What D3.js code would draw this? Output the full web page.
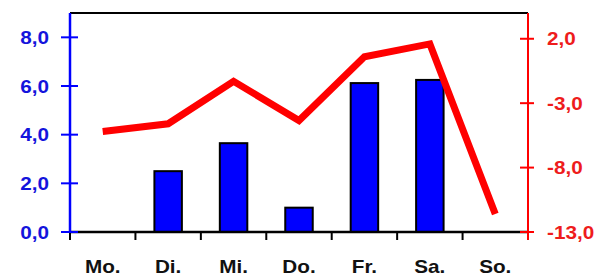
<!DOCTYPE html>
<head>
    <meta charset="utf-8">
    <script src="https://d3js.org/d3.v7.min.js"></script>
</head>
<body style="background: white; margin: 0">
    <div id="my_dataviz"></div>
    <script>
        // data
        var days = ["Mo.", "Di.", "Mi.", "Do.", "Fr.", "Sa.", "So."]
        var barValues = [0, 2.5, 3.65, 1.0, 6.12, 6.25, 0]
        var lineValues = [-5.2, -4.6, -1.3, -4.35, 0.6, 1.6, -11.6]
        var leftTicks = [0, 2, 4, 6, 8]
        var rightTicks = [-13, -8, -3, 2]

        var W = 612, H = 277
        var margin = { top: 13, right: 84, bottom: 45, left: 70 },
            width = W - margin.left - margin.right,
            height = H - margin.top - margin.bottom;

        var svg = d3.select("#my_dataviz")
            .append("svg")
            .attr("width", W)
            .attr("height", H)
            .append("g")
            .attr("transform", "translate(" + margin.left + "," + margin.top + ")");

        var fmt = function (v) { return v.toFixed(1).replace(".", ","); }
        var font = "'Liberation Sans', Arial, sans-serif"
        var stretch = 1.15

        // scales
        var x = d3.scaleBand().domain(days).range([0, width])
        var yL = d3.scaleLinear().domain([0, 9]).range([height, 0])
        var yR = d3.scaleLinear().domain([-13, 4]).range([height, 0])

        // bars
        svg.selectAll(".bar")
            .data(days)
            .enter()
            .filter(function (d, i) { return barValues[i] > 0; })
            .append("rect")
            .attr("x", function (d) { return x(d) + x.bandwidth() * 0.29; })
            .attr("width", x.bandwidth() * 0.42)
            .attr("y", function (d) { return yL(barValues[days.indexOf(d)]); })
            .attr("height", function (d) { return height - yL(barValues[days.indexOf(d)]); })
            .style("fill", "#0000ff")
            .style("stroke", "#000")
            .style("stroke-width", 2)

        // top border
        svg.append("line")
            .attr("x1", 0).attr("x2", width)
            .attr("y1", 0).attr("y2", 0)
            .style("stroke", "#000").style("stroke-width", 2)

        // bottom axis (ticks on band edges)
        var xAx = svg.append("g")
            .attr("transform", "translate(0," + height + ")")
        xAx.append("line").attr("x1", 0).attr("x2", width)
            .style("stroke", "#000").style("stroke-width", 2.5)
        var edges = days.map(function (d) { return x(d); }).concat([width])
        xAx.selectAll(".edge").data(edges).enter().append("line")
            .attr("x1", function (d) { return d; }).attr("x2", function (d) { return d; })
            .attr("y1", 0).attr("y2", 8)
            .style("stroke", "#000").style("stroke-width", 2)
        xAx.selectAll(".lab").data(days).enter().append("text")
            .attr("transform", function (d) {
                return "translate(" + (x(d) + x.bandwidth() / 2) + ",41) scale(" + stretch + ",1)";
            })
            .attr("text-anchor", "middle")
            .style("font-family", font).style("font-weight", "bold")
            .style("font-size", "18px").style("fill", "#111")
            .text(function (d) { return d; })

        // left axis
        var lAx = svg.append("g")
        lAx.append("line").attr("x1", 0).attr("x2", 0).attr("y1", 0).attr("y2", height)
            .style("stroke", "#0000ff").style("stroke-width", 2.5)
        lAx.selectAll(".t").data(leftTicks).enter().append("line")
            .attr("x1", -9).attr("x2", 8)
            .attr("y1", function (d) { return yL(d); }).attr("y2", function (d) { return yL(d); })
            .style("stroke", "#0000ff").style("stroke-width", 2)
        lAx.selectAll(".l").data(leftTicks).enter().append("text")
            .attr("transform", function (d) {
                return "translate(-21," + (yL(d) + 6.5) + ") scale(" + stretch + ",1)";
            })
            .attr("text-anchor", "end")
            .style("font-family", font).style("font-weight", "bold")
            .style("font-size", "18px").style("fill", "#1414dc")
            .text(fmt)

        // right axis
        var rAx = svg.append("g").attr("transform", "translate(" + width + ",0)")
        rAx.append("line").attr("x1", 0).attr("x2", 0).attr("y1", 0).attr("y2", height + 8)
            .style("stroke", "#ff0000").style("stroke-width", 2)
        rAx.selectAll(".t").data(rightTicks).enter().append("line")
            .attr("x1", -8).attr("x2", 6)
            .attr("y1", function (d) { return yR(d); }).attr("y2", function (d) { return yR(d); })
            .style("stroke", "#ff0000").style("stroke-width", 2)
        rAx.selectAll(".l").data(rightTicks).enter().append("text")
            .attr("transform", function (d) {
                return "translate(19," + (yR(d) + 6.5) + ") scale(" + stretch + ",1)";
            })
            .attr("text-anchor", "start")
            .style("font-family", font).style("font-weight", "bold")
            .style("font-size", "18px").style("fill", "#ee1c1c")
            .text(fmt)

        // line series
        var line = d3.line()
            .x(function (d, i) { return x(days[i]) + x.bandwidth() / 2; })
            .y(function (d) { return yR(d); })
        svg.append("path")
            .datum(lineValues)
            .attr("d", line)
            .style("fill", "none")
            .style("stroke", "#ff0000")
            .style("stroke-width", 7)
            .style("stroke-linejoin", "miter")
    </script>
</body>
</html>
